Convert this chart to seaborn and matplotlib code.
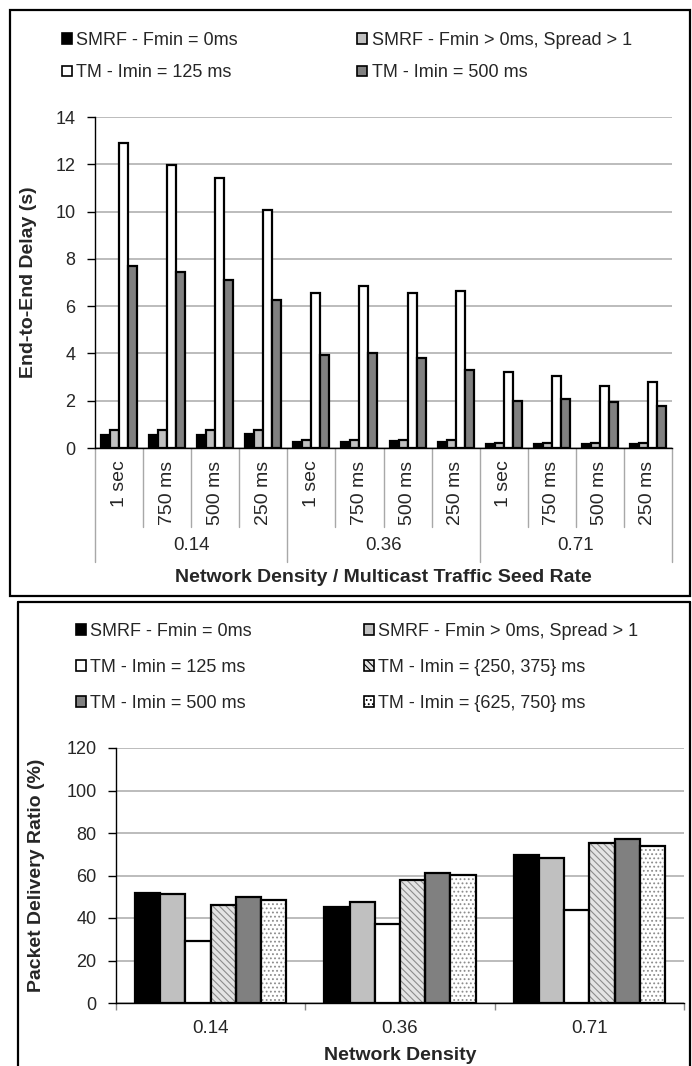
import numpy as np
import pandas as pd
import seaborn as sns
import matplotlib
matplotlib.use("Agg")
import matplotlib.pyplot as plt
from matplotlib import font_manager as fm
from matplotlib.patches import Patch, Rectangle
from matplotlib.lines import Line2D

# ---------------- data ----------------
densities = ["0.14", "0.36", "0.71"]
seed_rates = ["1 sec", "750 ms", "500 ms", "250 ms"]

delay_series = ["SMRF - Fmin = 0ms", "SMRF - Fmin > 0ms, Spread > 1",
                "TM - Imin = 125 ms", "TM - Imin = 500 ms"]
delay_smrf0 = [0.53, 0.55, 0.55, 0.60, 0.25, 0.25, 0.28, 0.27, 0.17, 0.15, 0.15, 0.16]
delay_smrf_spread = [0.75, 0.75, 0.75, 0.75, 0.35, 0.35, 0.35, 0.35, 0.22, 0.20, 0.20, 0.20]
delay_tm125 = [12.89, 11.96, 11.42, 10.07, 6.54, 6.85, 6.57, 6.64, 3.22, 3.05, 2.64, 2.81]
delay_tm500 = [7.68, 7.44, 7.10, 6.28, 3.94, 4.02, 3.80, 3.32, 1.97, 2.09, 1.95, 1.79]

pdr_series = ["SMRF - Fmin = 0ms", "SMRF - Fmin > 0ms, Spread > 1",
              "TM - Imin = 125 ms", "TM - Imin = {250, 375} ms",
              "TM - Imin = 500 ms", "TM - Imin = {625, 750} ms"]
pdr_smrf0 = [51.6, 45.0, 69.8]
pdr_smrf_spread = [51.3, 47.7, 68.4]
pdr_tm125 = [29.3, 37.3, 43.8]
pdr_tm250_375 = [46.1, 57.9, 75.3]
pdr_tm500 = [50.0, 61.2, 77.2]
pdr_tm625_750 = [48.6, 60.2, 74.0]

delay_yticks = [0, 2, 4, 6, 8, 10, 12, 14]
pdr_yticks = [0, 20, 40, 60, 80, 100, 120]

# ---------------- style ----------------
sns.set_theme(style="white")


def has_font(name):
    try:
        fm.findfont(fm.FontProperties(family=name), fallback_to_default=False)
        return True
    except Exception:
        return False


BASE = "Liberation Sans" if has_font("Liberation Sans") else "DejaVu Sans"
plt.rcParams["font.family"] = [BASE, "DejaVu Sans"]
plt.rcParams["hatch.linewidth"] = 0.8
FS = 13
FSB = 14

W, H = 692, 1066
fig = plt.figure(figsize=(W / 100, H / 100), dpi=100)


def ax_rect(x0, y_top, x1, y_bot):
    return [x0 / W, 1 - y_bot / H, (x1 - x0) / W, (y_bot - y_top) / H]


# frames around the two panels
fig.add_artist(Rectangle((10 / W, 1 - 596 / H), (690 - 10) / W, (596 - 10) / H,
                         transform=fig.transFigure, fill=False, edgecolor="black", lw=1.6))
fig.add_artist(Line2D([18 / W, 18 / W], [0, 1 - 602 / H], transform=fig.transFigure, color="black", lw=1.6))
fig.add_artist(Line2D([18 / W, 690 / W], [1 - 602 / H, 1 - 602 / H], transform=fig.transFigure, color="black", lw=1.6))
fig.add_artist(Line2D([690 / W, 690 / W], [0, 1 - 602 / H], transform=fig.transFigure, color="black", lw=1.6))

BLACK, LGRAY, WHITE, DGRAY = "#000000", "#c0c0c0", "#ffffff", "#808080"
HATCH_FACE = "#e4e4e4"
HATCH_COLOR = "#8c8c8c"
GRID = "#bcbcbc"

# ---------------- top chart ----------------
ax1 = fig.add_axes(ax_rect(95, 117, 672, 448))
cats = [f"{d}|{s}" for d in densities for s in seed_rates]
df1 = pd.DataFrame({
    "cat": cats * 4,
    "series": np.repeat(delay_series, len(cats)),
    "value": delay_smrf0 + delay_smrf_spread + delay_tm125 + delay_tm500,
})
sns.barplot(data=df1, x="cat", y="value", hue="series", order=cats, hue_order=delay_series,
            palette=[BLACK, LGRAY, WHITE, DGRAY], saturation=1, edgecolor="black",
            linewidth=1.6, width=0.75, gap=0, legend=False, ax=ax1)
ax1.set_xlim(-0.5, len(cats) - 0.5)
ax1.set_ylim(0, 14)
ax1.set_yticks(delay_yticks)
ax1.set_yticklabels([str(v) for v in delay_yticks], fontsize=FS)
ax1.yaxis.grid(True, color=GRID, lw=1.4)
ax1.set_axisbelow(True)
for s in ["top", "right"]:
    ax1.spines[s].set_visible(False)
for s in ["left", "bottom"]:
    ax1.spines[s].set_color("black")
    ax1.spines[s].set_linewidth(1.0)
ax1.tick_params(axis="y", length=6, width=1, color="black", pad=8, left=True)
ax1.set_xticks(range(len(cats)))
ax1.set_xticklabels(seed_rates * len(densities), rotation=90, fontsize=FS + 1)
ax1.tick_params(axis="x", length=0, pad=9)
ax1.set_ylabel("End-to-End Delay (s)", fontsize=FSB, fontweight="bold")
ax1.yaxis.set_label_coords(-0.10, 0.5)
ax1.set_xlabel("Network Density / Multicast Traffic Seed Rate", fontsize=FSB, fontweight="bold")
ax1.xaxis.set_label_coords(0.5, -0.39)
ax1.xaxis.label.set_va("center")

trans = ax1.get_xaxis_transform()
n_sub = len(seed_rates)
for b in range(len(cats) + 1):
    xb = b - 0.5
    is_group = (b % n_sub == 0)
    y_end = -(562 - 448) / 331 if is_group else -(527 - 448) / 331
    ax1.plot([xb, xb], [0, y_end], transform=trans, color="#a8a8a8", lw=1.0, clip_on=False)
for gi, d in enumerate(densities):
    xc = gi * n_sub + (n_sub - 1) / 2
    ax1.text(xc, -(545 - 448) / 331, d, transform=trans, ha="center", va="center", fontsize=FS + 0.5)

top_handles = [Patch(facecolor=c, edgecolor="black", lw=1.2) for c in [BLACK, LGRAY, WHITE, DGRAY]]
order = [0, 2, 1, 3]
fig.legend([top_handles[i] for i in order], [delay_series[i] for i in order],
           loc="upper left", bbox_to_anchor=(62 / W, 1 - 32 / H), ncol=2, frameon=False,
           fontsize=FS, handlelength=0.55, handleheight=0.55, handletextpad=0.25,
           columnspacing=6.6, labelspacing=0.85, borderpad=0, borderaxespad=0)

# ---------------- bottom chart ----------------
ax2 = fig.add_axes(ax_rect(116, 748, 684, 1003))
df2 = pd.DataFrame({
    "density": densities * 6,
    "series": np.repeat(pdr_series, len(densities)),
    "value": pdr_smrf0 + pdr_smrf_spread + pdr_tm125 + pdr_tm250_375 + pdr_tm500 + pdr_tm625_750,
})
pdr_colors = [BLACK, LGRAY, WHITE, HATCH_FACE, DGRAY, WHITE]
pdr_hatches = [None, None, None, "\\\\\\\\\\", None, "...."]
sns.barplot(data=df2, x="density", y="value", hue="series", order=densities, hue_order=pdr_series,
            palette=pdr_colors, saturation=1, edgecolor="black", linewidth=1.6,
            width=0.8, gap=0, legend=False, ax=ax2)

# gray hatch inside the bars, black outline drawn on top from each bar's own geometry
for cont, h in zip(ax2.containers, pdr_hatches):
    if h is None:
        continue
    for p in cont.patches:
        p.set_hatch(h)
        p.set_edgecolor(HATCH_COLOR)
        p.set_linewidth(0)
        ax2.add_patch(Rectangle(p.get_xy(), p.get_width(), p.get_height(), fill=False,
                                edgecolor="black", lw=1.6, zorder=p.get_zorder() + 0.1))

ax2.set_xlim(-0.5, len(densities) - 0.5)
ax2.set_ylim(0, 120)
ax2.set_yticks(pdr_yticks)
ax2.set_yticklabels([str(v) for v in pdr_yticks], fontsize=FS)
ax2.yaxis.grid(True, color=GRID, lw=1.4)
ax2.set_axisbelow(True)
for s in ["top", "right"]:
    ax2.spines[s].set_visible(False)
for s in ["left", "bottom"]:
    ax2.spines[s].set_color("black")
    ax2.spines[s].set_linewidth(1.0)
ax2.tick_params(axis="y", length=6, width=1, color="black", pad=8, left=True)
ax2.set_xticks(range(len(densities)))
ax2.set_xticklabels(densities, fontsize=FS + 0.5)
ax2.set_xticks([i - 0.5 for i in range(len(densities) + 1)], minor=True)
ax2.tick_params(axis="x", which="major", length=0, pad=12)
ax2.tick_params(axis="x", which="minor", length=5, width=1, color="#888888", bottom=True)
ax2.set_ylabel("Packet Delivery Ratio (%)", fontsize=FSB, fontweight="bold")
ax2.yaxis.set_label_coords(-0.125, 0.5)
ax2.set_xlabel("Network Density", fontsize=FSB, fontweight="bold")
ax2.xaxis.set_label_coords(0.5, -0.205)
ax2.xaxis.label.set_va("center")

bot_handles = []
for c, h in zip(pdr_colors, pdr_hatches):
    if h is None:
        bot_handles.append(Patch(facecolor=c, edgecolor="black", lw=1.2))
    else:
        bot_handles.append(Patch(facecolor=c, edgecolor="black", lw=1.2, hatch=h))
order2 = [0, 2, 4, 1, 3, 5]
fig.legend([bot_handles[i] for i in order2], [pdr_series[i] for i in order2],
           loc="upper left", bbox_to_anchor=(76 / W, 1 - 623 / H), ncol=2, frameon=False,
           fontsize=FS, handlelength=0.55, handleheight=0.55, handletextpad=0.25,
           columnspacing=6.2, labelspacing=1.05, borderpad=0, borderaxespad=0)

fig.savefig("out.png", dpi=100)
